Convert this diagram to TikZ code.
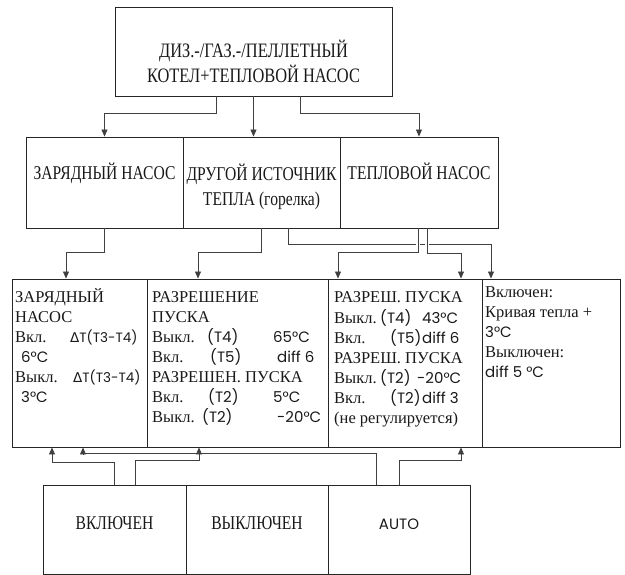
\documentclass[tikz,border=0pt]{standalone}
\usepackage{fontspec}
\setmainfont{Liberation Serif}
\newfontfamily\headfont{Liberation Serif}[FakeStretch=0.8]
\newfontfamily\sansfont{Poppins}
\newfontfamily\greekfont{DejaVu Sans}
\usetikzlibrary{arrows.meta}
\newcommand{\sa}[2][15]{{\sansfont\fontsize{#1}{20}\selectfont #2}}
\newcommand{\dlt}{{\greekfont Δ}}
\newcommand{\col}[2]{\makebox[#1pt][l]{#2}}

\begin{document}
\begin{tikzpicture}[x=1pt,y=-1pt]
\tikzstyle{every node}=[inner sep=0pt, text=black!90]
\tikzstyle{box}=[draw=black!85, line width=.9pt]
\tikzstyle{head}=[font=\headfont\fontsize{19.5}{25}\selectfont]
\tikzstyle{panel}=[font=\fontsize{16.5}{20}\selectfont, align=left, anchor=north west]
\tikzstyle{conn}=[draw=black!75, line width=.8pt, -{Triangle[length=7pt,width=6pt]}]
\tikzstyle{gap}=[preaction={draw=white, line width=3.5pt, shorten <=4pt, shorten >=4pt}]
\useasboundingbox (0,0) rectangle (625,575);
% boiler
\draw (253.5,51.5) node (kotel) [box, minimum width=277pt, minimum height=89pt] {};
\draw (253.5,39.6) node (kotel-txt) [font=\headfont\fontsize{20.5}{22}\selectfont, align=center, anchor=north] {\strut ДИЗ.-/ГАЗ.-/ПЕЛЛЕТНЫЙ\\КОТЕЛ+ТЕПЛОВОЙ НАСОС};
% sources
\draw (104.5,182.5) node (zn) [box, head, minimum width=157pt, minimum height=91pt, text height=13pt, text depth=18pt] {ЗАРЯДНЫЙ НАСОС};
\draw (261.5,182.5) node (dr) [box, minimum width=157pt, minimum height=91pt] {};
\draw (261.5,162.5) node (dr-txt) [head, align=center, anchor=north] {\strut ДРУГОЙ ИСТОЧНИК\\ТЕПЛА (горелка)};
\draw (419,182.5) node (tn) [box, head, minimum width=158pt, minimum height=91pt, text height=13pt, text depth=18pt] {ТЕПЛОВОЙ НАСОС};
% settings
\draw (79.5,363) node (zar) [box, minimum width=135pt, minimum height=168pt] {};
\draw (237.5,363) node (raz) [box, minimum width=181pt, minimum height=168pt] {};
\draw (405,363) node (rzp) [box, minimum width=154pt, minimum height=168pt] {};
\draw (551,363) node (vkl) [box, minimum width=138pt, minimum height=168pt] {};
\draw (15,288) node (zar-txt) [panel] {\strut ЗАРЯДНЫЙ\\НАСОС\\
  \col{55}{Вкл.}\sa[13.5]{\dlt T(T3-T4)}\\
  \hspace*{6pt}\sa{6°C}\\
  \col{58}{Выкл.}\sa[13.5]{\dlt T(T3-T4)}\\
  \hspace*{6pt}\sa{3°C}};
\draw (152,288) node (raz-txt) [panel] {\strut РАЗРЕШЕНИЕ\\ПУСКА\\
  \col{55}{Выкл.}\col{66}{\sa{(T4)}}\sa{65°C}\\
  \col{58}{Вкл.}\col{67}{\sa{(T5)}}\sa{diff 6}\\
  РАЗРЕШЕН. ПУСКА\\
  \col{56}{Вкл.}\col{65}{\sa{(T2)}}\sa{5°C}\\
  \col{50}{Выкл.}\col{75}{\sa{(T2)}}\sa{-20°C}};
\draw (334,288) node (rzp-txt) [panel] {\strut РАЗРЕШ. ПУСКА\\
  \col{46}{Выкл.}\col{42}{\sa{(T4)}}\sa{43°C}\\
  \col{56}{Вкл.}\col{32}{\sa{(T5)}}\sa{diff 6}\\
  РАЗРЕШ. ПУСКА\\
  \col{46}{Выкл.}\col{37}{\sa{(T2)}}\sa{-20°C}\\
  \col{56}{Вкл.}\col{32}{\sa{(T2)}}\sa{diff 3}\\
  (не регулируется)};
\draw (485,283) node (vkl-txt) [panel] {\strut Включен:\\Кривая тепла +\\
  \sa{3°C}\\Выключен:\\\sa{diff 5 °C}};
% modes
\draw (114.5,529.5) node (von) [box, head, minimum width=143pt, minimum height=89pt, text height=13pt, text depth=14pt] {ВКЛЮЧЕН};
\draw (257,529.5) node (voff) [box, head, minimum width=142pt, minimum height=89pt, text height=13pt, text depth=14pt] {ВЫКЛЮЧЕН};
\draw (399,529.5) node (auto) [box, minimum width=142pt, minimum height=89pt, text height=11pt, text depth=12pt] {\sa{AUTO}};
% boiler -> sources
\draw[conn] ([xshift=-37.5pt]kotel.south) -- ++(0,17) -| (zn.north);
\draw[conn] (kotel.south) -- (kotel.south |- dr.north);
\draw[conn] ([xshift=46.5pt]kotel.south) -- ++(0,17) -| (tn.north);
% sources -> settings
\draw[conn] (zn.south) -- ++(0,24) -| ([xshift=-13.5pt]zar.north);
\draw[conn] (dr.south) -- ++(0,24) -| ([xshift=-39.5pt]raz.north);
\draw[conn] ([xshift=26.5pt]dr.south) -- ++(0,16) -| ([xshift=-60pt]vkl.north);
\draw[conn, gap] ([xshift=-1pt]tn.south) -- ++(0,24) -| ([xshift=-67pt]rzp.north);
\draw[conn, gap] ([xshift=8pt]tn.south) -- ++(0,25) -| ([xshift=-90pt]vkl.north);
% modes -> settings
\draw[conn] (von.north) -- ++(0,-22) -| ([xshift=-27.5pt]zar.south);
\draw[conn] ([xshift=-22.5pt]auto.north) -- ++(0,-31) -| ([xshift=3.5pt]zar.south);
\draw[conn, gap] ([xshift=20.5pt]von.north) -- ++(0,-24) -| ([xshift=-38.5pt]raz.south);
\draw[conn] (auto.north) -- ++(0,-24) -| ([xshift=-90pt]vkl.south);
\end{tikzpicture}
\end{document}
